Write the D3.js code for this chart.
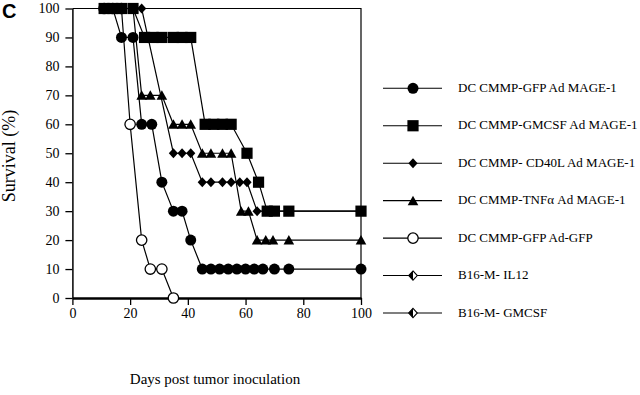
<!DOCTYPE html>
<html><head><meta charset="utf-8">
<script src="https://cdn.jsdelivr.net/npm/d3@7"></script>
<style>
body{margin:0;background:#fff;}
svg{display:block;}
text{font-family:"Liberation Serif","Times New Roman",serif;fill:#000;}
</style></head>
<body>
<svg id="chart" width="640" height="395"></svg>
<script>
// ---- data (day, survival %) ----
const gfpMage   = [[11,100],[14,100],[17,90],[21,90],[24,60],[27.5,60],[31,40],[35,30],[38,30],[41,20],[45,10],[48,10],[51,10],[54,10],[57,10],[60,10],[63,10],[66,10],[70,10],[75,10],[100,10]];
const gmcsfMage = [[11,100],[14,100],[17,100],[21,100],[25,90],[28,90],[31,90],[35,90],[38,90],[41,90],[46,60],[49,60],[52,60],[55,60],[60.5,50],[64.5,40],[67.5,30],[70,30],[75,30],[100,30]];
const cd40lMage = [[11,100],[14,100],[17,100],[21,100],[24,100],[35,50],[38,50],[41,50],[45,40],[48,40],[52,40],[55,40],[58,40],[60.5,40],[64,30],[67,30],[70,30],[75,30],[100,30]];
const tnfMage   = [[11,100],[14,100],[17,100],[21,100],[24,70],[27,70],[31,70],[35,60],[38,60],[41,60],[45,50],[48,50],[52,50],[55,50],[58.5,30],[61,30],[64,20],[67,20],[69.5,20],[75,20],[100,20]];
const gfpAdGfp  = [[11,100],[14,100],[17,100],[20,60],[24,20],[27,10],[31,10],[35,0]];
const b16Il12   = [];
const b16Gmcsf  = [];

const seriesNames = ["DC CMMP-GFP Ad MAGE-1","DC CMMP-GMCSF Ad MAGE-1","DC CMMP- CD40L Ad MAGE-1","DC CMMP-TNF\u03b1 Ad MAGE-1","DC CMMP-GFP Ad-GFP","B16-M- IL12","B16-M- GMCSF"];
const seriesMarkers = ["circle","square","diamond","triangle","opencircle","halfdiamond","halfdiamond"];
const seriesData = [gfpMage, gmcsfMage, cd40lMage, tnfMage, gfpAdGfp, b16Il12, b16Gmcsf];

const xTicks = [0,20,40,60,80,100];
const yTicks = [0,10,20,30,40,50,60,70,80,90,100];
const xTitle = "Days post tumor inoculation";
const yTitle = "Survival (%)";
const panelLabel = "C";

// ---- layout ----
const svg = d3.select("#chart");
const x = d3.scaleLinear().domain([0,100]).range([72.4,361]);
const y = d3.scaleLinear().domain([0,100]).range([298,8.5]);

function drawMarker(g, type, cx, cy, s){
  s = s || 1;
  if(type==="circle"){
    g.append("circle").attr("cx",cx).attr("cy",cy).attr("r",5.5*s).attr("fill","#000");
  } else if(type==="opencircle"){
    g.append("circle").attr("cx",cx).attr("cy",cy).attr("r",5.2*s).attr("fill","#fff").attr("stroke","#000").attr("stroke-width",1.3);
  } else if(type==="square"){
    const h=5.6*s;
    g.append("rect").attr("x",cx-h).attr("y",cy-h).attr("width",2*h).attr("height",2*h).attr("fill","#000");
  } else if(type==="diamond"){
    const w=4.6*s,h=5*s;
    g.append("path").attr("d",`M${cx},${cy-h}L${cx+w},${cy}L${cx},${cy+h}L${cx-w},${cy}Z`).attr("fill","#000");
  } else if(type==="triangle"){
    const w=5.3*s,h=5*s;
    g.append("path").attr("d",`M${cx},${cy-h}L${cx+w},${cy+h-0.5}L${cx-w},${cy+h-0.5}Z`).attr("fill","#000");
  } else if(type==="halfdiamond"){
    const w=4.3*s,h=4.6*s;
    g.append("path").attr("d",`M${cx},${cy-h}L${cx+w},${cy}L${cx},${cy+h}L${cx-w},${cy}Z`).attr("fill","#fff").attr("stroke","#000").attr("stroke-width",1.1);
    g.append("path").attr("d",`M${cx},${cy-h}L${cx},${cy+h}L${cx-w},${cy}Z`).attr("fill","#000");
  }
}

// frame (top & right)
svg.append("path").attr("d",`M${x(0)},${y(100)}H${x(100)}V${y(0)}`).attr("fill","none").attr("stroke","#000").attr("stroke-width",1.2);

// axes
const yAxis = svg.append("g").attr("transform",`translate(${x(0)},0)`)
  .call(d3.axisLeft(y).tickValues(yTicks).tickSize(7).tickSizeOuter(0).tickPadding(6));
const xAxis = svg.append("g").attr("transform",`translate(0,${y(0)})`)
  .call(d3.axisBottom(x).tickValues(xTicks).tickSize(7).tickSizeOuter(0).tickPadding(3));
[yAxis,xAxis].forEach(a=>{
  a.selectAll("text").style("font-size","14px").style("font-family","Liberation Serif, serif").attr("fill","#000");
  a.selectAll("line").attr("stroke","#000").attr("stroke-width",1.3);
  a.select(".domain").attr("stroke","#000");
});
yAxis.select(".domain").attr("stroke-width",1.5);
xAxis.select(".domain").attr("stroke-width",2.4);

// series lines & markers
const line = d3.line().x(d=>x(d[0])).y(d=>y(d[1]));
const order = [4,0,3,2,1];
const plot = svg.append("g");
order.forEach(i=>{
  plot.append("path").datum(seriesData[i]).attr("d",line).attr("fill","none").attr("stroke","#000").attr("stroke-width",1.2);
});
order.forEach(i=>{
  const g = plot.append("g");
  seriesData[i].forEach(d=>drawMarker(g, seriesMarkers[i], x(d[0]), y(d[1])));
});

// legend
const legY = d3.scaleLinear().domain([0,6]).range([88.3,313]);
const leg = svg.append("g");
seriesNames.forEach((name,i)=>{
  const yy = legY(i);
  leg.append("line").attr("x1",383).attr("x2",442).attr("y1",yy).attr("y2",yy).attr("stroke","#000").attr("stroke-width",1.1);
  drawMarker(leg, seriesMarkers[i], 413, yy, 1);
  leg.append("text").attr("x",458).attr("y",yy+3.5).style("font-size","13px").text(name);
});

// titles
svg.append("text").attr("x",(x(0)+x(100))/2 - 0).attr("y",384).attr("text-anchor","middle").style("font-size","15px").attr("x",215).text(xTitle);
svg.append("text").attr("transform","translate(15,156) rotate(-90)").attr("text-anchor","middle").style("font-size","18px").text(yTitle);
svg.append("text").attr("x",2).attr("y",18).style("font-family","Liberation Sans, Arial, sans-serif").style("font-weight","bold").style("font-size","20px").text(panelLabel);
</script>
</body></html>
